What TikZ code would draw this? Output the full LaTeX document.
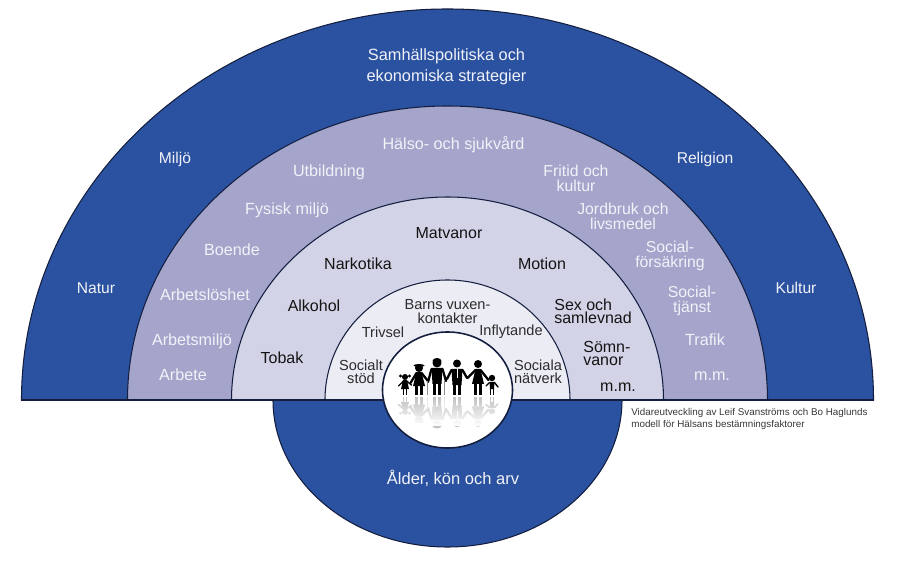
\documentclass[tikz,border=0pt]{standalone}
\usepackage{fontspec}
\setmainfont{Liberation Sans}
\usetikzlibrary{fadings}
\definecolor{deepblue}{HTML}{2A52A0}
\definecolor{midlilac}{HTML}{A5A5CB}
\definecolor{palelilac}{HTML}{D3D3E7}
\definecolor{mistlilac}{HTML}{ECECF4}
\definecolor{rimnavy}{HTML}{141F40}
\definecolor{softwhite}{HTML}{F1F2F8}
\definecolor{inkdark}{HTML}{141414}
\tikzset{every node/.style={font=\fontsize{8.9}{11}\selectfont,inner sep=0pt,align=center},
 rim/.style={draw=rimnavy,line width=.6pt},
 lightlab/.style={text=softwhite},
 ringlab/.style={text=softwhite,font=\fontsize{9}{8.7}\selectfont},
 darklab/.style={text=inkdark,font=\fontsize{9.1}{7.6}\selectfont},
 corelab/.style={text=inkdark!90,font=\fontsize{8.3}{7.5}\selectfont},
 creditlab/.style={text=inkdark!85,align=left,anchor=north west,font=\fontsize{5.6}{6.8}\selectfont}}
\newcommand{\familyshapes}[2]{%
 \fill[#1] (-42.5,23) circle (3) (-47,24) circle (1.6) (-38,24) circle (1.6);
 \fill[#1] (-44.5,20)--(-40.5,20)--(-38.5,11)--(-46.5,11)--cycle;
 \fill[#1] (-28.5,32) circle (4) (-28.5,34.5) ellipse (5.5 and 1.5);
 \fill[#1] (-31,28)--(-26,28)--(-22.5,14)--(-34.5,14)--cycle;
 \fill[#1] (-10.5,37) circle (4.5) (-10.5,39) ellipse (4.5 and 3);
 \fill[#1] (-16,32)--(-5,32)--(-6,16)--(-15,16)--cycle;
 \fill[#1] (9.5,36.5) circle (4);
 \fill[#1] (4,31)--(15,31)--(14,15)--(5,15)--cycle;
 \fill[#1] (30.5,36) circle (4);
 \fill[#1] (28,31)--(33,31)--(36.5,16)--(24.5,16)--cycle;
 \fill[#1] (44.5,22) circle (3.2);
 \fill[#1] (42,18)--(47,18)--(46.5,11)--(42.5,11)--cycle;
 \draw[#1,line width=1pt] (-44,11)--(-44,5) (-41,11)--(-41,5) (43,11)--(43,5) (46,11)--(46,5);
 \draw[#1,line width=.8pt,line cap=round] (-44,19)--(-49,14) (-41,19)--(-36,15) (42,17.5)--(38.5,14) (47,17.5)--(50.5,13);
 \draw[#1,line width=1.5pt] (-31,14)--(-31,5) (-26,14)--(-26,5) (28,16)--(28,5) (33,16)--(33,5);
 \draw[#1,line width=2.1pt] (-13,16)--(-13,5) (-8,16)--(-8,5) (7,15)--(7,5) (12,15)--(12,5);
 \draw[#1,line width=1.3pt,line cap=round] (-31,27)--(-37,17) (-26,27)--(-19.5,19) (-16,31)--(-19.5,18) (-5,31)--(-1.5,19)
  (4,30)--(-.5,21) (15,30)--(19.5,22) (28,30)--(20,22) (33,30)--(41,20);
 \draw[#2,line width=.4pt] (-20.5,19)--(-20.5,5) (-3,19)--(-3,5);
 \draw[white,line width=.5pt] (9.5,31)--(9.5,22);
}
\begin{document}
\begin{tikzpicture}[x=.2mm,y=.2mm]

\useasboundingbox (-447.5,-184) rectangle (457.5,400);
% lower half first, the rings lie over its top edge
\filldraw[rim,fill=deepblue] (-174.5,0) arc[start angle=180,end angle=360,x radius=174.5,y radius=147]--cycle;
\filldraw[rim,fill=deepblue] (-426,0) arc[start angle=180,end angle=0,x radius=426,y radius=391]--cycle;
\filldraw[rim,fill=midlilac] (-320,0) arc[start angle=180,end angle=0,x radius=320,y radius=294]--cycle;
\filldraw[rim,fill=palelilac] (-216,0) arc[start angle=180,end angle=0,x radius=216,y radius=203]--cycle;
\filldraw[rim,fill=mistlilac] (-122.5,0) arc[start angle=180,end angle=0,x radius=122.5,y radius=120]--cycle;
\draw[rimnavy,line width=.8pt] (-426,0)--(426,0);
\fill[white] (0,10) ellipse (65 and 58);

\begin{scope}
\clip (0,10) ellipse (65 and 58);
\begin{scope}[shift={(0,3)},yscale=-.85,shift={(0,-5)}]
\familyshapes{black!24}{black!10}
\end{scope}
\fill[white,path fading=north] (-66,3) rectangle (66,-26);
\end{scope}
\familyshapes{black}{black!45}
\draw[rim,line width=.9pt] (0,10) ellipse (65 and 58);

\node[lightlab,font=\fontsize{9.3}{12}\selectfont] (strategier) at (-1,333) {Samhällspolitiska och\\ekonomiska strategier};
\node[lightlab] (miljo) at (-272.5,241) {Miljö};
\node[lightlab] (religion) at (257.5,241) {Religion};
\node[lightlab] (natur) at (-351.5,112) {Natur};
\node[lightlab] (kultur) at (348.5,112) {Kultur};
\node[lightlab,font=\fontsize{9.4}{11}\selectfont] (arv) at (5.5,-78) {Ålder, kön och arv};

\node[ringlab,font=\fontsize{9.2}{11}\selectfont] (halso) at (6,255) {Hälso- och sjukvård};
\node[ringlab,font=\fontsize{9.2}{11}\selectfont] (utbildning) at (-118.5,228) {Utbildning};
\node[ringlab,font=\fontsize{9.2}{11}\selectfont] (fysisk) at (-160.5,190) {Fysisk miljö};
\node[ringlab,font=\fontsize{9.2}{11}\selectfont] (boende) at (-215.5,150) {Boende};
\node[ringlab,font=\fontsize{9.2}{11}\selectfont] (arbetsloshet) at (-242.5,105) {Arbetslöshet};
\node[ringlab,font=\fontsize{9.2}{11}\selectfont] (arbetsmiljo) at (-255.5,59) {Arbetsmiljö};
\node[ringlab,font=\fontsize{9.2}{11}\selectfont] (arbete) at (-264.5,25) {Arbete};
\node[ringlab] (fritid) at (128.5,222) {Fritid och\\kultur};
\node[ringlab] (jordbruk) at (175.5,184) {Jordbruk och\\livsmedel};
\node[ringlab] (forsakring) at (222.5,144) {Social-\\försäkring};
\node[ringlab] (tjanst) at (244.5,99) {Social-\\tjänst};
\node[ringlab,font=\fontsize{9.2}{11}\selectfont] (trafik) at (257.5,60) {Trafik};
\node[ringlab,font=\fontsize{9.2}{11}\selectfont] (mmring) at (264.5,24) {m.m.};

\node[darklab] (matvanor) at (1.5,167) {Matvanor};
\node[darklab] (narkotika) at (-89.5,136) {Narkotika};
\node[darklab] (motion) at (94.5,136) {Motion};
\node[darklab] (alkohol) at (-133.5,94) {Alkohol};
\node[darklab] (tobak) at (-165.5,42) {Tobak};
\node[darklab,align=left,anchor=west] (sex) at (106.5,88.5) {Sex och\\samlevnad};
\node[darklab,align=left,anchor=west] (somn) at (135.5,46.5) {Sömn-\\vanor};
\node[darklab] (mmdark) at (170.5,13) {m.m.};

\node[corelab] (vuxen) at (0,88.5) {Barns vuxen-\\kontakter};
\node[corelab] (trivsel) at (-64.5,68) {Trivsel};
\node[corelab] (inflytande) at (63.5,68) {Inflytande};
\node[corelab] (stod) at (-86.5,28) {Socialt\\stöd};
\node[corelab] (natverk) at (90.5,28) {Sociala\\nätverk};

\node[creditlab] (credit) at (183.5,-8.5) {Vidareutveckling av Leif Svanströms och Bo Haglunds\\modell för Hälsans bestämningsfaktorer};

\end{tikzpicture}
\end{document}
